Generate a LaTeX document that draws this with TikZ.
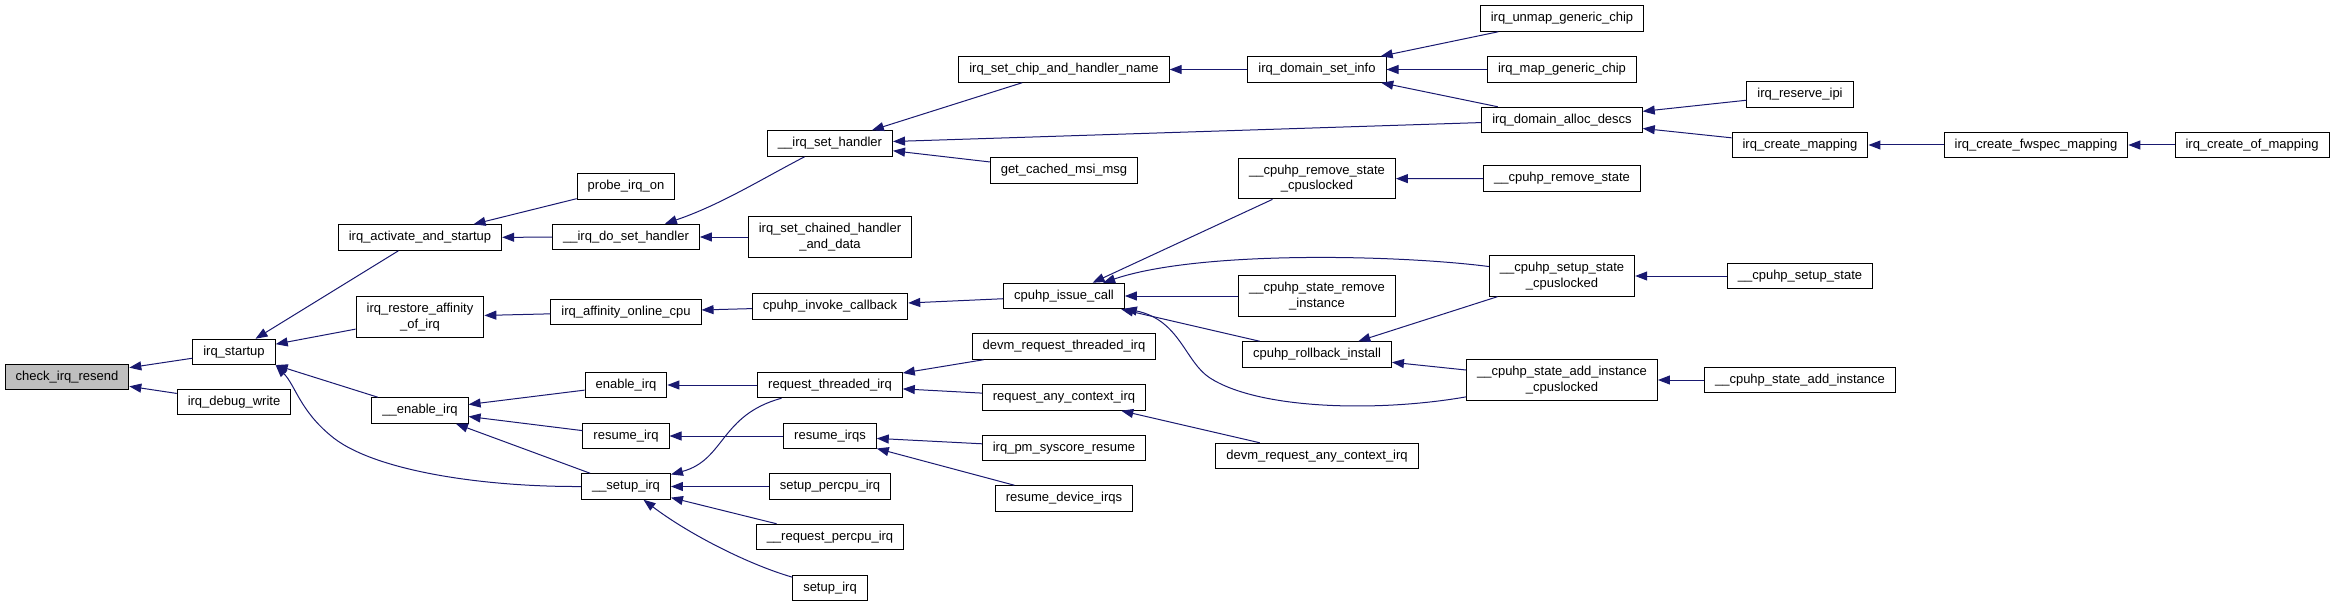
\documentclass[tikz,border=0pt]{standalone}
\usepackage{fontspec}
\setmainfont{Liberation Sans}
\usetikzlibrary{arrows.meta}
\definecolor{midnight}{HTML}{191970}
\definecolor{grey75}{HTML}{BFBFBF}

\begin{document}
\begin{tikzpicture}[x=1pt, y=-1pt, every node/.style={font=\fontsize{13}{15.6}\selectfont},
    box/.style={rectangle, draw=black, line width=1pt, fill=white, inner xsep=10.5pt, inner ysep=2pt, minimum height=25.5pt},
    twoline/.style={box, align=center, minimum height=40.3pt},
    focus/.style={box, fill=grey75},
    link/.style={draw=midnight, line width=1pt, -{Triangle[length=12pt, width=9pt]}}]
    \useasboundingbox (0,0) rectangle (2335,607);

    \node[focus] (cir) at (67,377) {check\_irq\_resend};
    \node[box] (startup) at (234,352) {irq\_startup};
    \node[box] (dbgwrite) at (234,402) {irq\_debug\_write};
    \node[box] (activate) at (420,237.5) {irq\_activate\_and\_startup};
    \node[twoline] (restore) at (420,317) {irq\_restore\_affinity\\\_of\_irq};
    \node[box] (enableirq) at (420,410.5) {\_\_enable\_irq};
    \node[box] (probe) at (626,186.5) {probe\_irq\_on};
    \node[box] (dosethandler) at (626,237) {\_\_irq\_do\_set\_handler};
    \node[box] (affinity) at (626,312) {irq\_affinity\_online\_cpu};
    \node[box] (enable) at (626,385) {enable\_irq};
    \node[box] (resume) at (626,436) {resume\_irq};
    \node[box] (setupirq) at (626,486.5) {\_\_setup\_irq};
    \node[box] (sethandler) at (830,143.5) {\_\_irq\_set\_handler};
    \node[twoline] (chained) at (830,237) {irq\_set\_chained\_handler\\\_and\_data};
    \node[box] (invoke) at (830,306.5) {cpuhp\_invoke\_callback};
    \node[box] (threaded) at (830,385) {request\_threaded\_irq};
    \node[box] (resumeirqs) at (830,436) {resume\_irqs};
    \node[box] (percpu) at (830,486.5) {setup\_percpu\_irq};
    \node[box] (reqpercpu) at (830,537) {\_\_request\_percpu\_irq};
    \node[box] (setup) at (830,588) {setup\_irq};
    \node[box] (chipname) at (1064,69.5) {irq\_set\_chip\_and\_handler\_name};
    \node[box] (msimsg) at (1064,170.5) {get\_cached\_msi\_msg};
    \node[box] (issue) at (1064,296) {cpuhp\_issue\_call};
    \node[box] (devmthreaded) at (1064,346.5) {devm\_request\_threaded\_irq};
    \node[box] (anyctx) at (1064,397.5) {request\_any\_context\_irq};
    \node[box] (syscore) at (1064,448) {irq\_pm\_syscore\_resume};
    \node[box] (devicei) at (1064,498.5) {resume\_device\_irqs};
    \node[box] (setinfo) at (1317,69.5) {irq\_domain\_set\_info};
    \node[twoline] (removecl) at (1317,178.7) {\_\_cpuhp\_remove\_state\\\_cpuslocked};
    \node[twoline] (removeinst) at (1317,296) {\_\_cpuhp\_state\_remove\\\_instance};
    \node[box] (rollback) at (1317,354.5) {cpuhp\_rollback\_install};
    \node[box] (devmany) at (1317,456) {devm\_request\_any\_context\_irq};
    \node[box] (unmap) at (1562,18.5) {irq\_unmap\_generic\_chip};
    \node[box] (map) at (1562,69.5) {irq\_map\_generic\_chip};
    \node[box] (alloc) at (1562,120) {irq\_domain\_alloc\_descs};
    \node[box] (removestate) at (1562,178.5) {\_\_cpuhp\_remove\_state};
    \node[twoline] (setupcl) at (1562,276) {\_\_cpuhp\_setup\_state\\\_cpuslocked};
    \node[twoline] (addcl) at (1562,380) {\_\_cpuhp\_state\_add\_instance\\\_cpuslocked};
    \node[box] (reserve) at (1800,94.5) {irq\_reserve\_ipi};
    \node[box] (createmap) at (1800,145) {irq\_create\_mapping};
    \node[box] (setupstate) at (1800,276) {\_\_cpuhp\_setup\_state};
    \node[box] (addinst) at (1800,380) {\_\_cpuhp\_state\_add\_instance};
    \node[box] (fwspec) at (2036,145) {irq\_create\_fwspec\_mapping};
    \node[box] (ofmap) at (2252,145) {irq\_create\_of\_mapping};

    \draw[link] (startup) -- (cir);
    \draw[link] (dbgwrite) -- (cir);
    \draw[link] (activate) -- (startup);
    \draw[link] (restore) -- (startup);
    \draw[link] (enableirq) -- (startup);
    \draw[link] (setupirq.west) .. controls (480,487) and (370,470) .. (330,435) .. controls (300,410) and (295,385) .. (startup.south east);
    \draw[link] (probe) -- (activate);
    \draw[link] (dosethandler) -- (activate);
    \draw[link] (affinity) -- (restore);
    \draw[link] (enable) -- (enableirq);
    \draw[link] (resume) -- (enableirq);
    \draw[link] (setupirq) -- (enableirq);
    \draw[link] (sethandler) .. controls (760,180) and (720,205) .. (dosethandler);
    \draw[link] (chained) -- (dosethandler);
    \draw[link] (invoke) -- (affinity);
    \draw[link] (threaded) -- (enable);
    \draw[link] (resumeirqs) -- (resume);
    \draw[link] (threaded) .. controls (720,415) and (725,460) .. (setupirq);
    \draw[link] (percpu) -- (setupirq);
    \draw[link] (reqpercpu) -- (setupirq);
    \draw[link] (setup) .. controls (750,565) and (690,535) .. (setupirq);
    \draw[link] (chipname) -- (sethandler);
    \draw[link] (alloc) -- (sethandler);
    \draw[link] (msimsg) -- (sethandler);
    \draw[link] (issue) -- (invoke);
    \draw[link] (devmthreaded) -- (threaded);
    \draw[link] (anyctx) -- (threaded);
    \draw[link] (syscore) -- (resumeirqs);
    \draw[link] (devicei) -- (resumeirqs);
    \draw[link] (setinfo) -- (chipname);
    \draw[link] (removecl) -- (issue);
    \draw[link] (setupcl) .. controls (1400,255) and (1200,250) .. (issue);
    \draw[link] (removeinst) -- (issue);
    \draw[link] (rollback) -- (issue);
    \draw[link] (addcl) .. controls (1380,412) and (1260,410) .. (1210,378) .. controls (1185,362) and (1180,320) .. (issue);
    \draw[link] (devmany) -- (anyctx);
    \draw[link] (unmap) -- (setinfo);
    \draw[link] (map) -- (setinfo);
    \draw[link] (alloc) -- (setinfo);
    \draw[link] (removestate) -- (removecl);
    \draw[link] (setupcl) -- (rollback);
    \draw[link] (addcl) -- (rollback);
    \draw[link] (setupstate) -- (setupcl);
    \draw[link] (addinst) -- (addcl);
    \draw[link] (reserve) -- (alloc);
    \draw[link] (createmap) -- (alloc);
    \draw[link] (fwspec) -- (createmap);
    \draw[link] (ofmap) -- (fwspec);
\end{tikzpicture}
\end{document}
